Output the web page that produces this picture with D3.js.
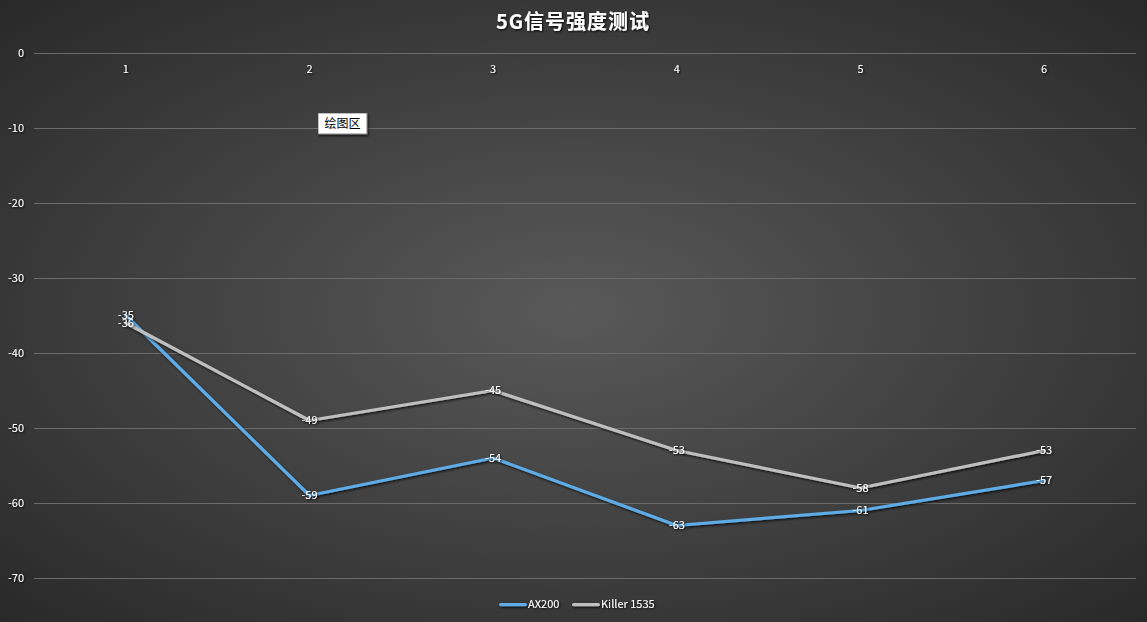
<!DOCTYPE html>
<html><head><meta charset="utf-8">
<script src="https://cdn.jsdelivr.net/npm/d3@7"></script>
<style>
html,body{margin:0;padding:0;background:#2e2e2e;overflow:hidden}
svg{display:block}
text{font-family:"Microsoft YaHei","Noto Sans CJK SC","DejaVu Sans",sans-serif}
</style></head>
<body><svg id="c" width="1147" height="622"></svg>
<script>
const categories = ["1","2","3","4","5","6"];
const seriesNames = ["AX200","Killer 1535"];
const ax200 = [-35,-59,-54,-63,-61,-57];
const killer = [-36,-49,-45,-53,-58,-53];
const yTicks = [0,-10,-20,-30,-40,-50,-60,-70];
const colors = ["#5eabe6","#bfbfbf"];

const W=1147,H=622;
const svg=d3.select("#c");
const defs=svg.append("defs");
const rg=defs.append("radialGradient").attr("id","bg").attr("cx","50%").attr("cy","50%").attr("r","75%");
rg.append("stop").attr("offset","0%").attr("stop-color","#595959");
rg.append("stop").attr("offset","100%").attr("stop-color","#262626");
const f=defs.append("filter").attr("id","sh").attr("filterUnits","userSpaceOnUse")
 .attr("x",0).attr("y",0).attr("width",W).attr("height",H);
f.append("feDropShadow").attr("dx",1).attr("dy",1.5).attr("stdDeviation",1).attr("flood-color","#000").attr("flood-opacity",0.75);
const ft=defs.append("filter").attr("id","tsh").attr("x","-20%").attr("y","-20%").attr("width","140%").attr("height","160%");
ft.append("feDropShadow").attr("dx",1).attr("dy",1).attr("stdDeviation",0.8).attr("flood-color","#000").attr("flood-opacity",0.9);

svg.append("rect").attr("width",W).attr("height",H).attr("fill","url(#bg)");

const x=d3.scaleBand().domain(categories).range([34,1136]);
const y=d3.scaleLinear().domain([-70,0]).range([578,53]);

// gridlines
svg.append("g").selectAll("line").data(yTicks).join("line")
 .attr("x1",34).attr("x2",1136).attr("y1",d=>y(d)+0.5).attr("y2",d=>y(d)+0.5)
 .attr("stroke","#6b6b6b").attr("stroke-width",1);

// y axis labels
const yAxis=d3.axisLeft(y).tickValues(yTicks).tickSize(0).tickPadding(0).tickFormat(d=>String(d));
const gy=svg.append("g").attr("transform","translate(24,0)").call(yAxis);
gy.select(".domain").remove();
gy.selectAll("text").attr("fill","#ffffff").attr("font-size",11).attr("filter","url(#tsh)");

// x axis labels (at top, below 0 line)
const xAxis=d3.axisTop(x).tickSize(0).tickPadding(0);
const gx=svg.append("g").attr("transform","translate(0,73)").call(xAxis);
gx.select(".domain").remove();
gx.selectAll("text").attr("fill","#ffffff").attr("font-size",11).attr("filter","url(#tsh)");

const cx=d=>x(d)+x.bandwidth()/2;
const line=d3.line().x((d,i)=>cx(categories[i])).y(d=>y(d));
const allSeries=[ax200,killer];

allSeries.forEach((s,k)=>{
  svg.append("path").datum(s).attr("d",line).attr("fill","none")
   .attr("stroke",colors[k]).attr("stroke-width",3.2).attr("stroke-linejoin","round").attr("stroke-linecap","round")
   .attr("filter","url(#sh)");
});
allSeries.forEach((s,k)=>{
  svg.append("g").selectAll("text").data(s).join("text")
   .attr("x",(d,i)=>cx(categories[i])).attr("y",d=>y(d)).attr("dy","0.35em")
   .attr("text-anchor","middle").attr("fill","#fff").attr("font-size",11)
   .attr("filter","url(#tsh)").text(d=>d);
});

// title
svg.append("text").attr("x",573).attr("y",29).attr("text-anchor","middle")
 .attr("fill","#fff").attr("font-size",20).attr("font-weight","bold").attr("letter-spacing",1).attr("filter","url(#tsh)")
 .text("5G信号强度测试");

// legend
const lg=svg.append("g");
const legendItems=[{x:499},{x:572}];
seriesNames.forEach((n,k)=>{
  const lx=legendItems[k].x;
  lg.append("rect").attr("x",lx).attr("y",603).attr("width",28).attr("height",3.2).attr("rx",1.6)
   .attr("fill",colors[k]).attr("filter","url(#sh)");
  lg.append("text").attr("x",lx+29).attr("y",604.5).attr("dy","0.35em").attr("fill","#fff")
   .attr("font-size",11).attr("filter","url(#tsh)").text(n);
});

// tooltip "绘图区"
const tip=svg.append("g").attr("transform","translate(318,113)");
tip.append("rect").attr("width",49).attr("height",21).attr("fill","#fff").attr("stroke","#808080").attr("stroke-width",1)
 .attr("filter","url(#sh)");
tip.append("text").attr("x",24.5).attr("y",11).attr("dy","0.35em").attr("text-anchor","middle")
 .attr("fill","#000").attr("font-size",12).text("绘图区");
</script></body></html>
